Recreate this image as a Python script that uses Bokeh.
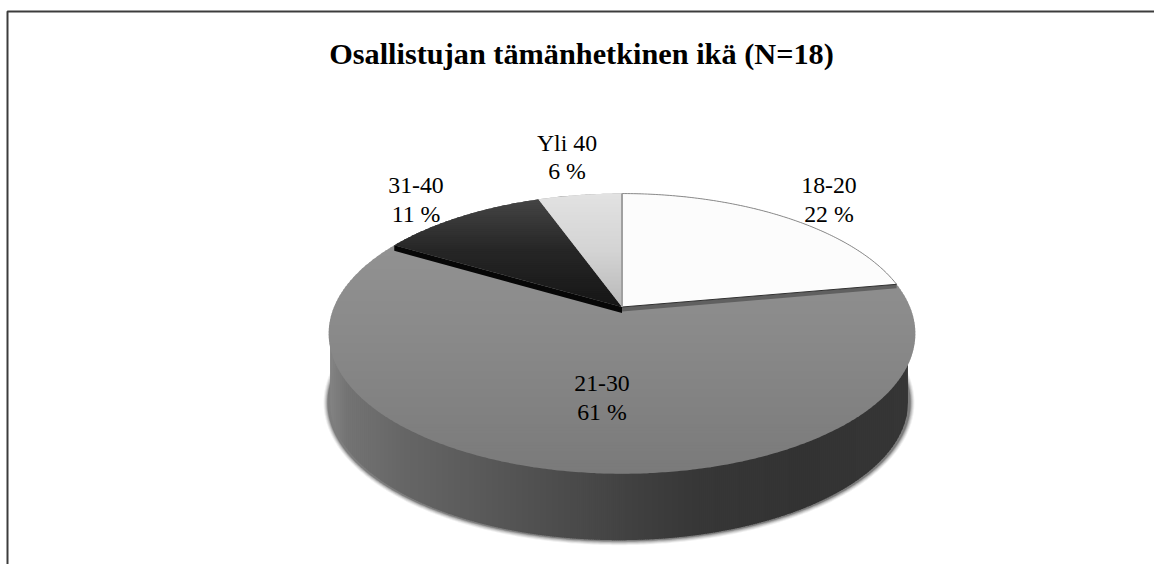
import math
from bokeh.plotting import figure
from bokeh.embed import file_html
from bokeh.resources import INLINE
from bokeh.core.properties import value

# ---- data ----
TITLE = "Osallistujan tämänhetkinen ikä (N=18)"
categories = ["18-20", "21-30", "31-40", "Yli 40"]
counts = [4, 11, 2, 1]
total = sum(counts)
percents = [f"{round(c / total * 100)} %" for c in counts]

# ---- layout (picture pixels) ----
W, H = 1154, 564
CX, CY = 621.5, 306.5      # pie centre on the top face
RX, RY, K = 288.0, 135.0, 0.19   # perspective circle
DEPTH = 68.0
BOT_DX, BOT_SCALE = -3.0, 0.985
label_x = [828.5, 601.5, 415.5, 566.5]
label_y = [185, 383, 185, 142.5]
LINE_GAP = 28

p = figure(width=W, height=H, x_range=(0, W), y_range=(H, 0),
           output_backend="svg", toolbar_location=None, min_border=0)
p.axis.visible = False
p.grid.visible = False
p.outline_line_color = None
p.background_fill_color = "white"
p.border_fill_color = "white"


def proj(deg):
    t = math.radians(deg)
    u, v = math.sin(t), -math.cos(t)
    d = 1 - K * v
    return CX + RX * u / d, CY + RY * v / d


def hexgray(g):
    g = int(round(max(0, min(255, g))))
    return f"#{g:02x}{g:02x}{g:02x}"


def lerp_stops(stops, x):
    if x <= stops[0][0]:
        return stops[0][1]
    for (a, ga), (b, gb) in zip(stops, stops[1:]):
        if x <= b:
            return ga + (gb - ga) * (x - a) / (b - a)
    return stops[-1][1]


def clip_y(poly, y0, y1):
    def clip(pts, inside, cross):
        out = []
        for i, a in enumerate(pts):
            b = pts[(i + 1) % len(pts)]
            ia, ib = inside(a), inside(b)
            if ia:
                out.append(a)
            if ia != ib:
                out.append(cross(a, b))
        return out

    def at(y):
        def f(a, b):
            s = (y - a[1]) / (b[1] - a[1])
            return (a[0] + s * (b[0] - a[0]), y)
        return f
    r = clip(poly, lambda q: q[1] >= y0, at(y0))
    if r:
        r = clip(r, lambda q: q[1] <= y1, at(y1))
    return r


def gradient_fill(poly, stops, step=3.0):
    ys = [q[1] for q in poly]
    y = min(ys)
    ymax = max(ys)
    xs_all, ys_all, colors = [], [], []
    while y < ymax:
        part = clip_y(poly, y, min(y + step + 0.7, ymax))
        if len(part) >= 3:
            xs_all.append([q[0] for q in part])
            ys_all.append([q[1] for q in part])
            colors.append(hexgray(lerp_stops(stops, y + step / 2)))
        y += step
    p.patches(xs_all, ys_all, fill_color=colors, line_color=None)


def arc(a0, a1, n=None):
    n = n or max(8, int(abs(a1 - a0) * 1.5))
    return [proj(a0 + (a1 - a0) * i / n) for i in range(n + 1)]


def bottom_pt(x, y):
    return (CX + BOT_DX + (x - CX) * BOT_SCALE,
            CY + DEPTH + 1 + (y - CY) * BOT_SCALE)


full = arc(0, 360, 720)[:-1]
bottom = [bottom_pt(*q) for q in full]

# soft shadow below the wall
for grow, alpha in [(4.5, 0.06), (3.5, 0.09), (2.5, 0.12), (1.5, 0.16), (0.7, 0.22)]:
    cxb = sum(q[0] for q in bottom) / len(bottom)
    cyb = (min(q[1] for q in bottom) + max(q[1] for q in bottom)) / 2
    ax = (max(q[0] for q in bottom) - min(q[0] for q in bottom)) / 2
    ay = (max(q[1] for q in bottom) - min(q[1] for q in bottom)) / 2
    xs = [cxb + (q[0] - cxb) * (ax + grow + 2) / ax for q in bottom]
    ys = [cyb + (q[1] - cyb) * (ay + grow) / ay + 0.5 for q in bottom]
    p.patch(xs, ys, fill_color="#000000", fill_alpha=alpha, line_color=None)

# side wall: vertical bands with a horizontal gradient
wall_stops = [(325, 0x86), (345, 0x74), (400, 0x66), (500, 0x56), (620, 0x42),
              (700, 0x36), (800, 0x32), (910, 0x35)]
xmin = min(q[0] for q in bottom)
xmax = max(q[0] for q in bottom)
ymid = (min(q[1] for q in full) + max(q[1] for q in full)) / 2
cx_b = (xmin + xmax) / 2
ax_b = (xmax - xmin) / 2
cy_b = (min(q[1] for q in bottom) + max(q[1] for q in bottom)) / 2
ay_b = (max(q[1] for q in bottom) - min(q[1] for q in bottom)) / 2
wx, wy, wc = [], [], []
x = xmin
STEP = 2.0
while x < xmax:
    x1 = min(x + STEP + 0.6, xmax)
    sx = []
    sy = []
    n = 4
    for i in range(n + 1):
        xx = x + (x1 - x) * i / n
        s = max(0.0, 1 - ((xx - cx_b) / ax_b) ** 2)
        sx.append(xx)
        sy.append(cy_b + ay_b * math.sqrt(s))
    wx.append([x] + sx + [x1])
    wy.append([ymid] + sy + [ymid])
    wc.append(hexgray(lerp_stops(wall_stops, x)))
    x += STEP
p.patches(wx, wy, fill_color=wc, line_color=None)

# slice boundaries from the counts (clockwise from 12 o'clock)
cum = [0]
for c in counts:
    cum.append(cum[-1] + c)
ang = [c / total * 360 for c in cum]

# big slice: whole top ellipse first, the others cover it
gradient_fill(full, [(193, 0x96), (330, 0x8a), (472, 0x7a)])

# thin cut walls along the big slice's raised edges
e1 = proj(ang[1])
e2 = proj(ang[2])
p.patch([CX, e1[0], e1[0], CX], [CY, e1[1], e1[1] + 4, CY + 4.5],
        fill_color="#606060", line_color=None)
p.patch([CX, e2[0], e2[0], CX], [CY, e2[1], e2[1] + 5.5, CY + 6],
        fill_color="#070707", line_color=None)

# white slice
white = [(CX, CY)] + arc(ang[0], ang[1])
p.patch([q[0] for q in white], [q[1] for q in white],
        fill_color="#fcfcfc", line_color=None)
a = arc(ang[0], ang[1])
p.line([q[0] for q in a], [q[1] for q in a], line_color="#8c8c8c", line_width=1)
p.line([CX, e1[0]], [CY, e1[1]], line_color="#303030", line_width=1)

# dark slice
dark = [(CX, CY)] + arc(ang[2], ang[3])
gradient_fill(dark, [(200, 0x44), (250, 0x26), (306, 0x16)], step=2)

# light grey slice
light = [(CX, CY)] + arc(ang[3], ang[4])
gradient_fill(light, [(193, 0xe2), (250, 0xd4), (306, 0xb8)], step=2)

# seam beside the white slice
p.line([CX, CX], [proj(0)[1], CY], line_color="#a0a0a0", line_width=2)

# frame: only top and left lines
p.line([7, 7, W], [H, 11, 11], line_color="#3c3c3c", line_width=2)

# texts
SERIF = value("Liberation Serif")
p.text([581], [53], text=[TITLE], text_font=SERIF, text_font_size="30.3px",
       text_font_style="bold", text_color="#000000", text_align="center",
       text_baseline="middle")
for name, pct, lx, ly in zip(categories, percents, label_x, label_y):
    p.text([lx, lx], [ly, ly + LINE_GAP], text=[name, pct], text_font=SERIF,
           text_font_size="23.8px", text_color="#000000", text_align="center",
           text_baseline="middle")

open("out.html", "w").write(file_html(p, INLINE))
